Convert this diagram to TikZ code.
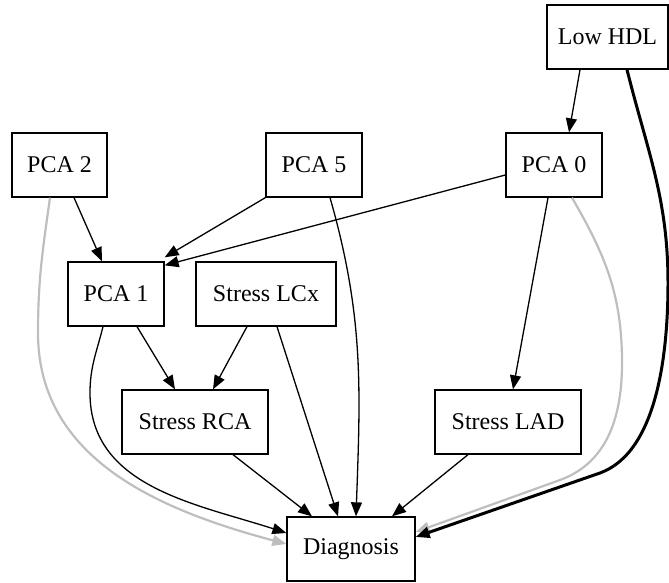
\documentclass[tikz,border=0pt]{standalone}
\usepackage{fontspec}
\setmainfont{Liberation Serif}
\usetikzlibrary{arrows.meta}

\begin{document}
\begin{tikzpicture}[x=1pt,y=1pt,
    box/.style={draw,line width=1.3pt,minimum height=64pt,inner sep=0pt,font=\fontsize{24}{28}\selectfont},
    link/.style={line width=1.3pt,-{Triangle[length=14pt,width=11pt]}},
    weak/.style={link,line width=2.2pt,color={rgb,255:red,190; green,190; blue,190}},
    strong/.style={link,line width=3pt}]
    \useasboundingbox (0,0) rectangle (669,583);

    % nodes
    \node[box,minimum width=121pt] (lowhdl) at (607.5,546) {Low HDL};
    \node[box,minimum width=95pt] (pcatwo) at (59.5,418) {PCA 2};
    \node[box,minimum width=96pt] (pcafive) at (314,418) {PCA 5};
    \node[box,minimum width=96pt] (pcazero) at (554,418) {PCA 0};
    \node[box,minimum width=96pt] (pcaone) at (116,289) {PCA 1};
    \node[box,minimum width=140pt] (lcx) at (266,289) {Stress LCx};
    \node[box,minimum width=146pt] (rca) at (195,161) {Stress RCA};
    \node[box,minimum width=146pt] (lad) at (508,161) {Stress LAD};
    \node[box,minimum width=128pt] (diag) at (351,34) {Diagnosis};

    % straight edges
    \draw[link] ([xshift=-27.5pt]lowhdl.south) -- ([xshift=15pt]pcazero.north);
    \draw[link] ([xshift=14.5pt]pcatwo.south) -- ([xshift=-14pt]pcaone.north);
    \draw[link] (pcafive.south west) -- ([yshift=4pt]pcaone.north east);
    \draw[link] ([yshift=-10pt]pcazero.west) -- ([yshift=-4pt]pcaone.north east);
    \draw[link] ([xshift=-6pt]pcazero.south) -- ([xshift=5pt]lad.north);
    \draw[link] ([xshift=21pt]pcaone.south) -- ([xshift=-20pt]rca.north);
    \draw[link] ([xshift=-19pt]lcx.south) -- ([xshift=18pt]rca.north);
    \draw[link] ([xshift=11pt]lcx.south) -- ([xshift=-13pt]diag.north);
    \draw[link] ([xshift=38pt]rca.south) -- ([xshift=-39pt]diag.north);
    \draw[link] ([xshift=-40pt]lad.south) -- ([xshift=41pt]diag.north);

    % curved edges
    \draw[link] ([xshift=16pt]pcafive.south) to [out=-74,in=88] ([xshift=5pt]diag.north);
    \draw[link] ([xshift=-13pt]pcaone.south) to [out=-104,in=90] (90,190) to [out=-90,in=162] ([yshift=16pt]diag.west);
    \draw[weak] ([xshift=-9.5pt]pcatwo.south) to [out=-98,in=90] (38,250) to [out=-90,in=165] ([yshift=5pt]diag.west);
    \draw[weak] ([xshift=18pt]pcazero.south) to [out=-60,in=90] (622,220) to [out=-90,in=20] (560,103) -- ([yshift=17pt]diag.east);
    \draw[strong] ([xshift=19.5pt]lowhdl.south) to [out=-76,in=90] (668,300) to [out=-90,in=20,looseness=0.8] (600,110) -- ([yshift=12pt]diag.east);
\end{tikzpicture}
\end{document}
